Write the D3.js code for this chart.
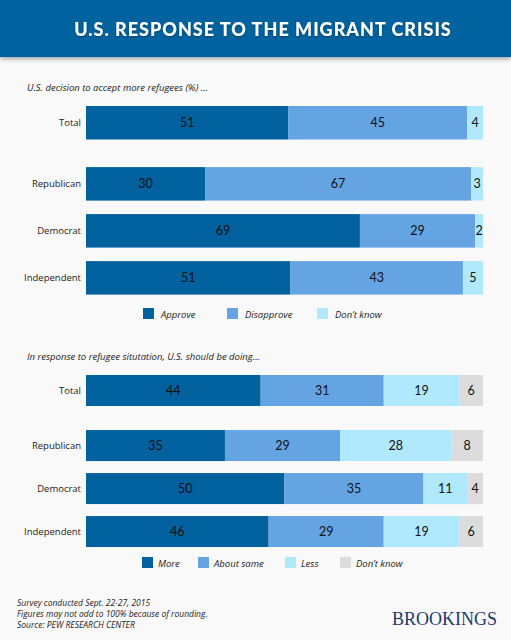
<!DOCTYPE html>
<html>
<head>
<meta charset="utf-8">
<script src="https://cdn.jsdelivr.net/npm/d3@7"></script>
<style>
  body { margin: 0; background: #f9f9f9; }
  svg { display: block; }
</style>
</head>
<body>
<div id="chart"></div>
<script>
// Chart data
var groups = ["Total", "Republican", "Democrat", "Independent"];

var acceptKeys = ["Approve", "Disapprove", "Don’t know"];
var approve = [51, 30, 69, 51];
var disapprove = [45, 67, 29, 43];
var acceptDontKnow = [4, 3, 2, 5];

var doingKeys = ["More", "About same", "Less", "Don’t know"];
var more = [44, 35, 50, 46];
var aboutSame = [31, 29, 35, 29];
var less = [19, 28, 11, 19];
var doingDontKnow = [6, 8, 4, 6];

var colors = ["#01619e", "#65a4e2", "#b0e8fd", "#dcdcdc"];

var svgWidth = 511;
var svgHeight = 640;

var svg = d3.select("#chart")
  .append("svg")
  .attr("width", svgWidth)
  .attr("height", svgHeight);

// header band with shadow
var defs = svg.append("defs");
var shadow = defs.append("filter").attr("id", "shadow").attr("height", "150%");
shadow.append("feDropShadow")
  .attr("dx", 0).attr("dy", 2).attr("stdDeviation", 2)
  .attr("flood-color", "#000").attr("flood-opacity", 0.35);
var tshadow = defs.append("filter").attr("id", "tshadow");
tshadow.append("feDropShadow")
  .attr("dx", 0).attr("dy", 1).attr("stdDeviation", 1)
  .attr("flood-color", "#000").attr("flood-opacity", 0.4);

svg.append("rect")
  .attr("x", 0).attr("y", 0)
  .attr("width", svgWidth).attr("height", 57)
  .attr("fill", "#01639f")
  .attr("filter", "url(#shadow)");

svg.append("text")
  .attr("x", 263).attr("y", 36)
  .attr("text-anchor", "middle")
  .attr("font-family", "Lato, 'Open Sans', sans-serif")
  .attr("font-weight", 900)
  .attr("font-size", "18px")
  .attr("letter-spacing", "1px")
  .attr("fill", "#fff")
  .attr("filter", "url(#tshadow)")
  .text("U.S. RESPONSE TO THE MIGRANT CRISIS");

var x = d3.scaleLinear().domain([0, 1]).range([86, 483]);

function drawPanel(opts) {
  var rows = groups.map(function(g, i) {
    var r = { group: g };
    opts.keys.forEach(function(k, j) { r[k] = opts.series[j][i]; });
    return r;
  });

  // normalised stack, bars all fill the same width
  var stacked = d3.stack().keys(opts.keys).offset(d3.stackOffsetExpand)(rows);

  // Total sits a little apart from the party rows
  var slot = function(i) { return i === 0 ? 0 : i + opts.gap; };
  var y = d3.scaleLinear().domain([0, 1]).range([opts.top, opts.top + opts.step]);

  var g = svg.append("g");

  g.append("text")
    .attr("x", 27).attr("y", opts.top - 15)
    .attr("font-family", "'Open Sans', sans-serif")
    .attr("font-style", "italic")
    .attr("font-size", "9.5px")
    .attr("fill", "#222")
    .text(opts.title);

  g.selectAll(".cat")
    .data(groups)
    .enter()
    .append("text")
    .attr("class", "cat")
    .attr("x", 81)
    .attr("y", (d, i) => y(slot(i)) + opts.barH / 2 + 3.5)
    .attr("text-anchor", "end")
    .attr("font-family", "'Open Sans', sans-serif")
    .attr("font-size", "9.5px")
    .attr("fill", "#222")
    .text(d => d);

  var layer = g.selectAll(".layer")
    .data(stacked)
    .enter()
    .append("g")
    .attr("fill", (d, i) => colors[i]);

  layer.selectAll("rect")
    .data(d => d)
    .enter()
    .append("rect")
    .attr("x", d => x(d[0]))
    .attr("y", (d, i) => y(slot(i)))
    .attr("width", d => x(d[1]) - x(d[0]))
    .attr("height", opts.barH);

  layer.selectAll("text")
    .data(function(d) { var key = d.key; return d.map(p => ({ p: p, v: p.data[key] })); })
    .enter()
    .append("text")
    .attr("x", d => (x(d.p[0]) + x(d.p[1])) / 2)
    .attr("y", (d, i) => y(slot(i)) + opts.barH / 2 + 4.5)
    .attr("text-anchor", "middle")
    .attr("font-family", "Lato, 'Open Sans', sans-serif")
    .attr("font-size", "12.5px")
    .attr("fill", "#111")
    .text(d => d.v);

  var legend = g.selectAll(".leg")
    .data(opts.keys)
    .enter()
    .append("g")
    .attr("class", "leg")
    .attr("transform", (d, i) => `translate(${opts.legendX[i]}, ${opts.legendY})`);

  legend.append("rect")
    .attr("x", 0).attr("y", -6)
    .attr("width", 11).attr("height", 11)
    .attr("fill", (d, i) => colors[i]);

  legend.append("text")
    .attr("x", opts.legendText)
    .attr("y", 3.5)
    .attr("font-family", "'Open Sans', sans-serif")
    .attr("font-style", "italic")
    .attr("font-size", "9.5px")
    .attr("fill", "#222")
    .text(d => d);
}

drawPanel({
  title: "U.S. decision to accept more refugees (%) ...",
  keys: acceptKeys,
  series: [approve, disapprove, acceptDontKnow],
  top: 106, step: 47, gap: 0.3, barH: 33.5,
  legendX: [143, 227, 317], legendText: 18, legendY: 314
});

drawPanel({
  title: "In response to refugee situtation, U.S. should be doing...",
  keys: doingKeys,
  series: [more, aboutSame, less, doingDontKnow],
  top: 375, step: 43, gap: 0.28, barH: 31,
  legendX: [142, 198, 285, 340], legendText: 16, legendY: 563
});

// footnotes
var notes = ["Survey conducted Sept. 22-27, 2015",
  "Figures may not add to 100% because of rounding.",
  "Source: PEW RESEARCH CENTER"];

svg.selectAll(".note")
  .data(notes)
  .enter()
  .append("text")
  .attr("class", "note")
  .attr("x", 17)
  .attr("y", (d, i) => 606 + i * 11)
  .attr("font-family", "'Open Sans', sans-serif")
  .attr("font-style", "italic")
  .attr("font-size", "8.5px")
  .attr("fill", "#222")
  .text(d => d);

svg.append("text")
  .attr("x", 497).attr("y", 625)
  .attr("text-anchor", "end")
  .attr("font-family", "'Liberation Serif', serif")
  .attr("font-size", "18px")
  .attr("fill", "#1e3a6c")
  .text("BROOKINGS");
</script>
</body>
</html>
